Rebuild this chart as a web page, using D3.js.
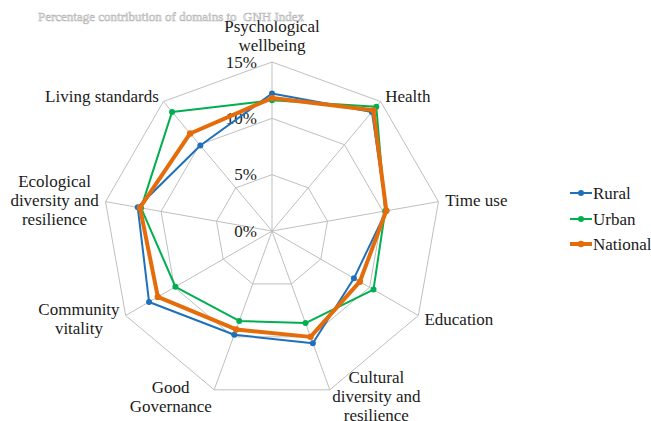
<!DOCTYPE html>
<html>
<head>
<meta charset="utf-8">
<script src="https://cdn.jsdelivr.net/npm/d3@7/dist/d3.min.js"></script>
<style>
  html, body { margin: 0; padding: 0; background: #fff; }
  svg { display: block; }
  text { font-family: "Liberation Serif", "Times New Roman", serif; fill: #1a1a1a; }
</style>
</head>
<body>
<svg id="chart" width="651" height="421"></svg>
<script>
// Domains of the GNH index, clockwise from the top
const domains = [
  ["Psychological", "wellbeing"],
  ["Health"],
  ["Time use"],
  ["Education"],
  ["Cultural", "diversity and", "resilience"],
  ["Good", "Governance"],
  ["Community", "vitality"],
  ["Ecological", "diversity and", "resilience"],
  ["Living standards"]
];

// Percentage contribution of each domain
const rural    = [12.2, 13.8, 10.3, 8.4, 10.6, 9.8, 12.6, 12.1, 9.9];
const urban    = [11.6, 14.4, 10.2, 10.4, 8.7, 8.5, 9.9, 11.8, 13.8];
const national = [11.8, 14.0, 10.3, 9.0, 10.0, 9.3, 11.7, 11.9, 11.3];

const seriesNames = ["Rural", "Urban", "National"];
const tickValues = [0, 5, 10, 15];
const tickLabels = ["0%", "5%", "10%", "15%"];

const series = [
  { name: seriesNames[0], values: rural,    color: "#1F70BA", width: 2,   r: 3 },
  { name: seriesNames[1], values: urban,    color: "#00AF50", width: 2,   r: 3 },
  { name: seriesNames[2], values: national, color: "#E46C0A", width: 4,   r: 3.2 }
];

const svg = d3.select("#chart");
const cx = 272, cy = 231;

const r = d3.scaleLinear().domain([0, 15]).range([0, 169]);
const angle = d3.scaleLinear().domain([0, domains.length]).range([0, 2 * Math.PI]);

const px = (i, v) => cx + r(v) * Math.sin(angle(i));
const py = (i, v) => cy - r(v) * Math.cos(angle(i));

const idx = d3.range(domains.length);
const g = svg.append("g");

// Grid rings
const ring = d3.line().curve(d3.curveLinearClosed);
g.selectAll("path.ring")
  .data(tickValues.filter(t => t > 0))
  .join("path")
  .attr("class", "ring")
  .attr("d", t => ring(idx.map(i => [px(i, t), py(i, t)])))
  .attr("fill", "none")
  .attr("stroke", "#bfbfbf")
  .attr("stroke-width", 1);

// Spokes
g.selectAll("line.spoke")
  .data(idx)
  .join("line")
  .attr("class", "spoke")
  .attr("x1", cx).attr("y1", cy)
  .attr("x2", i => px(i, 15)).attr("y2", i => py(i, 15))
  .attr("stroke", "#bfbfbf")
  .attr("stroke-width", 1);

// Tick labels along the top axis
g.selectAll("text.tick")
  .data(tickValues)
  .join("text")
  .attr("class", "tick")
  .attr("x", cx - 15)
  .attr("y", t => cy - r(t))
  .attr("dy", "0.34em")
  .attr("text-anchor", "end")
  .style("font-size", "17px")
  .text((t, k) => tickLabels[k]);

// Series lines and markers
const lineGen = d3.line().curve(d3.curveLinearClosed);
series.forEach(s => {
  const pts = s.values.map((v, i) => [px(i, v), py(i, v)]);
  g.append("path")
    .attr("d", lineGen(pts))
    .attr("fill", "none")
    .attr("stroke", s.color)
    .attr("stroke-width", s.width)
    .attr("stroke-linejoin", "round");
  g.selectAll(null)
    .data(pts)
    .join("circle")
    .attr("cx", d => d[0]).attr("cy", d => d[1])
    .attr("r", s.r)
    .attr("fill", s.color);
});

// Domain labels: box placed just outside each spoke's end
const lineH = 19, pad = 7;
domains.forEach((lines, i) => {
  const a = angle(i);
  const dx = Math.sin(a), dy = -Math.cos(a);
  const ax = cx + (r(15) + pad) * dx;
  const ay = cy + (r(15) + pad) * dy;
  const t = svg.append("text").style("font-size", "17px").attr("text-anchor", "middle");
  const spans = lines.map(l => t.append("tspan").text(l));
  const w = d3.max(spans, s => s.node().getComputedTextLength());
  const h = lines.length * lineH;
  let boxCx;
  if (dx > 0.1) boxCx = ax + w / 2;
  else if (dx < -0.1) boxCx = ax - w / 2;
  else boxCx = ax;
  let boxCy = ay;
  if (dy < -0.95) boxCy = ay - h / 2;
  spans.forEach((s, k) => {
    s.attr("x", boxCx)
     .attr("y", boxCy - h / 2 + lineH * (k + 0.5))
     .attr("dy", "0.34em");
  });
});

// Title
svg.append("text")
  .attr("x", 38).attr("y", 17)
  .attr("dy", "0.34em")
  .style("font-size", "13px")
  .style("white-space", "pre")
  .style("fill", "#ffffff")
  .style("stroke", "#b4b4b4")
  .style("stroke-width", 0.6)
  .text("Percentage contribution of domains to  GNH Index");

// Legend
const legend = svg.append("g");
const rowY = [193, 219, 244];
series.forEach((s, k) => {
  const row = legend.append("g").attr("transform", `translate(570,${rowY[k]})`);
  row.append("line").attr("x1", 0).attr("x2", 22).attr("y1", 0).attr("y2", 0)
    .attr("stroke", s.color).attr("stroke-width", s.width);
  row.append("circle").attr("cx", 11).attr("cy", 0).attr("r", s.r).attr("fill", s.color);
  row.append("text").attr("x", 23).attr("y", 0).attr("dy", "0.34em")
    .style("font-size", "17px").text(s.name);
});
</script>
</body>
</html>
